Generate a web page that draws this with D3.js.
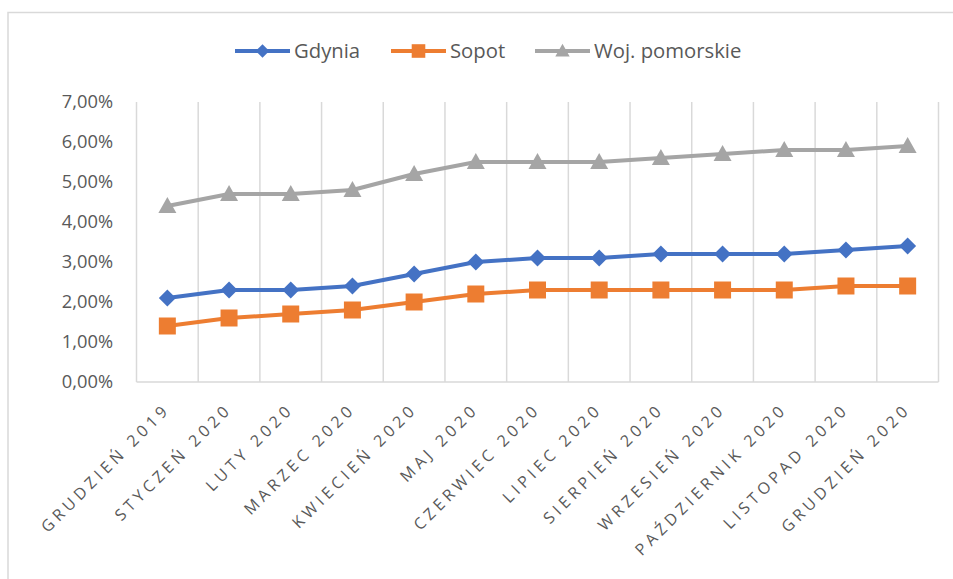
<!DOCTYPE html>
<html><head><meta charset="utf-8">
<script src="https://cdn.jsdelivr.net/npm/d3@7/dist/d3.min.js"></script>
<style>body{margin:0;background:#fff}svg{display:block}</style>
</head><body><svg id="c" width="953" height="579"></svg>
<script>
const categories = ["GRUDZIEŃ 2019","STYCZEŃ 2020","LUTY 2020","MARZEC 2020","KWIECIEŃ 2020","MAJ 2020","CZERWIEC 2020","LIPIEC 2020","SIERPIEŃ 2020","WRZESIEŃ 2020","PAŹDZIERNIK 2020","LISTOPAD 2020","GRUDZIEŃ 2020"];
const gdynia = [2.1,2.3,2.3,2.4,2.7,3.0,3.1,3.1,3.2,3.2,3.2,3.3,3.4];
const sopot = [1.4,1.6,1.7,1.8,2.0,2.2,2.3,2.3,2.3,2.3,2.3,2.4,2.4];
const woj = [4.4,4.7,4.7,4.8,5.2,5.5,5.5,5.5,5.6,5.7,5.8,5.8,5.9];
const seriesNames = ["Gdynia","Sopot","Woj. pomorskie"];
const yTicks = [0,1,2,3,4,5,6,7];

const series = [
  {name: seriesNames[0], values: gdynia, color: "#4472C4", marker: "diamond"},
  {name: seriesNames[1], values: sopot, color: "#ED7D31", marker: "square"},
  {name: seriesNames[2], values: woj, color: "#A5A5A5", marker: "triangle"}
];

const svg = d3.select("#c");
const font = "'Open Sans', sans-serif";
svg.append("rect").attr("x",8).attr("y",12.5).attr("width",960).attr("height",580)
  .attr("fill","#fff").attr("stroke","#D9D9D9").attr("stroke-width",1.5);

const L = 136.5, R = 938.5, T = 102, B = 382;
const x = d3.scaleBand().domain(categories).range([L,R]);
const y = d3.scaleLinear().domain([0,7]).range([B,T]);

// vertical gridlines at category boundaries
const bounds = categories.map(c => x(c)).concat([R]);
svg.append("g").selectAll("line").data(bounds).join("line")
  .attr("x1",d=>d).attr("x2",d=>d).attr("y1",T).attr("y2",B)
  .attr("stroke","#D9D9D9").attr("stroke-width",1.5);
svg.append("line").attr("x1",L).attr("x2",R).attr("y1",B).attr("y2",B)
  .attr("stroke","#D9D9D9").attr("stroke-width",1.5);

// y labels
svg.append("g").selectAll("text").data(yTicks).join("text")
  .attr("x",113).attr("y",d=>y(d)).attr("dy","0.35em")
  .attr("text-anchor","end").attr("font-family",font).attr("font-size",18.3)
  .attr("fill","#595959").text(d=>d3.format(".2f")(d).replace(".",",")+"%");

// x labels
const ls = 4.2;
svg.append("g").selectAll("text").data(categories).join("text")
  .attr("transform",d=>`translate(${x(d)+x.bandwidth()/2+1},${413}) rotate(-45)`)
  .attr("x",ls)
  .attr("text-anchor","end").attr("font-family",font).attr("font-size",16)
  .attr("letter-spacing",ls+"px")
  .attr("fill","#595959").text(d=>d);

const cx = d => x(d)+x.bandwidth()/2;
const line = d3.line().x((d,i)=>cx(categories[i])).y(d=>y(d));

function markerPath(type){
  if(type==="diamond") return "M0,-8.5L8.5,0L0,8.5L-8.5,0Z";
  if(type==="square") return "M-8.5,-8.5H8.5V8.5H-8.5Z";
  return "M0,-9L9,7L-9,7Z";
}

series.forEach(s=>{
  svg.append("path").datum(s.values).attr("d",line).attr("fill","none")
    .attr("stroke",s.color).attr("stroke-width",4).attr("stroke-linejoin","round");
  svg.append("g").selectAll("path").data(s.values).join("path")
    .attr("transform",(d,i)=>`translate(${cx(categories[i])},${y(d)})`)
    .attr("d",markerPath(s.marker)).attr("fill",s.color);
});

// legend
const legX = [235, 391, 535];
series.forEach((s,i)=>{
  const g = svg.append("g").attr("transform",`translate(${legX[i]},51)`);
  g.append("line").attr("x1",0).attr("x2",55).attr("stroke",s.color).attr("stroke-width",4);
  g.append("path").attr("transform","translate(27.5,0) scale(0.8)").attr("d",markerPath(s.marker)).attr("fill",s.color);
  g.append("text").attr("x",59).attr("dy","0.36em").attr("font-family",font).attr("font-size",20.3)
    .attr("fill","#595959").text(s.name);
});
</script></body></html>
